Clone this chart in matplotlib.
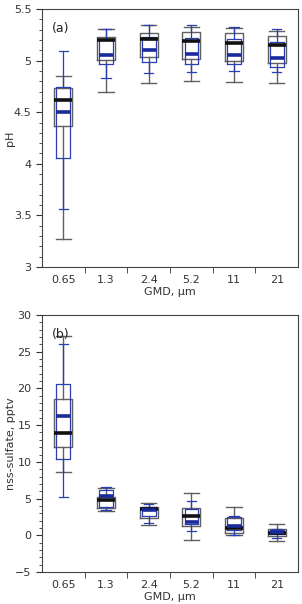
import matplotlib
matplotlib.use("Agg")
import matplotlib.pyplot as plt
from matplotlib.ticker import MultipleLocator

gmd = ['0.65', '1.3', '2.4', '5.2', '11', '21']

# pH, gray set: whisker low, q1, median, q3, whisker high
ph_gray_lo = [3.27, 4.70, 4.78, 4.80, 4.79, 4.78]
ph_gray_q1 = [4.37, 5.01, 5.04, 5.02, 5.00, 4.98]
ph_gray_med = [4.62, 5.20, 5.21, 5.19, 5.17, 5.15]
ph_gray_q3 = [4.73, 5.23, 5.27, 5.28, 5.27, 5.24]
ph_gray_hi = [4.85, 5.31, 5.35, 5.33, 5.32, 5.29]

# pH, blue set
ph_blue_lo = [3.56, 4.83, 4.88, 4.89, 4.90, 4.89]
ph_blue_q1 = [4.06, 4.97, 4.99, 4.97, 4.97, 4.94]
ph_blue_med = [4.50, 5.05, 5.10, 5.06, 5.05, 5.03]
ph_blue_q3 = [4.74, 5.21, 5.23, 5.22, 5.21, 5.18]
ph_blue_hi = [5.09, 5.31, 5.35, 5.35, 5.33, 5.31]

# nss-sulfate, gray set
so4_gray_lo = [8.6, 3.3, 1.45, -0.7, 0.0, -0.8]
so4_gray_q1 = [12.0, 3.65, 2.3, 1.3, 0.35, -0.05]
so4_gray_med = [13.95, 4.75, 3.6, 2.6, 0.95, 0.35]
so4_gray_q3 = [18.6, 5.2, 3.85, 3.65, 2.4, 0.85]
so4_gray_hi = [27.2, 6.5, 4.4, 5.7, 3.9, 1.5]

# nss-sulfate, blue set
so4_blue_lo = [5.2, 3.4, 1.7, 0.6, 0.1, -0.35]
so4_blue_q1 = [10.4, 3.8, 2.6, 1.5, 0.7, 0.15]
so4_blue_med = [16.2, 5.3, 3.4, 1.85, 1.3, 0.4]
so4_blue_q3 = [20.55, 6.1, 3.8, 3.6, 2.5, 0.75]
so4_blue_hi = [26.0, 6.6, 4.2, 4.6, 2.6, 0.9]


def make_stats(lo, q1, med, q3, hi):
    st = []
    for i in range(len(lo)):
        st.append(dict(whislo=lo[i], q1=q1[i], med=med[i], q3=q3[i], whishi=hi[i], fliers=[]))
    return st


gray = '#606060'
blue = '#2a3fb0'
pos = list(range(len(gmd)))

fig = plt.figure(figsize=(3.02, 6.04), dpi=100)
ax1 = fig.add_axes([0.139, 0.558, 0.848, 0.427])
ax2 = fig.add_axes([0.139, 0.053, 0.848, 0.4255])


def draw(ax, g, b):
    ax.bxp(g, positions=pos, widths=0.42, showfliers=False,
           boxprops=dict(color=gray, lw=1.0),
           whiskerprops=dict(color=gray, lw=1.0),
           capprops=dict(color=gray, lw=1.0), capwidths=0.36,
           medianprops=dict(color='#111111', lw=2.6))
    ax.bxp(b, positions=pos, widths=0.32, showfliers=False,
           boxprops=dict(color=blue, lw=0.9),
           whiskerprops=dict(color=blue, lw=0.9),
           capprops=dict(color=blue, lw=0.9), capwidths=0.22,
           medianprops=dict(color='#1a2a9a', lw=2.6))
    ax.set_xlim(-0.5, 5.5)
    ax.set_xticks(pos)
    ax.set_xticklabels(gmd)
    ax.set_xticks([0.5, 1.5, 2.5, 3.5, 4.5], minor=True)
    ax.tick_params(axis='x', which='major', length=0, labelsize=8, colors='#333333', pad=6)
    ax.tick_params(axis='x', which='minor', length=4, direction='out', color='#333333')
    ax.tick_params(axis='y', which='major', length=4, direction='out', labelsize=8, colors='#333333')
    ax.tick_params(axis='y', which='minor', length=2, direction='out', color='#333333')
    for s in ax.spines.values():
        s.set_color('#444444')
        s.set_linewidth(0.8)
    ax.set_xlabel('GMD, µm', fontsize=8, color='#333333', labelpad=1)


draw(ax1, make_stats(ph_gray_lo, ph_gray_q1, ph_gray_med, ph_gray_q3, ph_gray_hi),
     make_stats(ph_blue_lo, ph_blue_q1, ph_blue_med, ph_blue_q3, ph_blue_hi))
ax1.set_ylim(3, 5.5)
ax1.set_yticks([3, 3.5, 4, 4.5, 5, 5.5])
ax1.set_yticklabels(['3', '3.5', '4', '4.5', '5', '5.5'])
ax1.yaxis.set_minor_locator(MultipleLocator(0.1))
ax1.set_ylabel('pH', fontsize=8, color='#333333')
ax1.yaxis.set_label_coords(-0.105, 0.5)
ax1.text(0.04, 0.95, '(a)', transform=ax1.transAxes, fontsize=9, va='top', color='#222222')

draw(ax2, make_stats(so4_gray_lo, so4_gray_q1, so4_gray_med, so4_gray_q3, so4_gray_hi),
     make_stats(so4_blue_lo, so4_blue_q1, so4_blue_med, so4_blue_q3, so4_blue_hi))
ax2.set_ylim(-5, 30)
ax2.set_yticks([-5, 0, 5, 10, 15, 20, 25, 30])
ax2.yaxis.set_minor_locator(MultipleLocator(1))
ax2.set_ylabel('nss-sulfate, pptv', fontsize=8, color='#333333')
ax2.yaxis.set_label_coords(-0.1, 0.5)
ax2.text(0.04, 0.95, '(b)', transform=ax2.transAxes, fontsize=9, va='top', color='#222222')

fig.savefig('out.png', dpi=100)
